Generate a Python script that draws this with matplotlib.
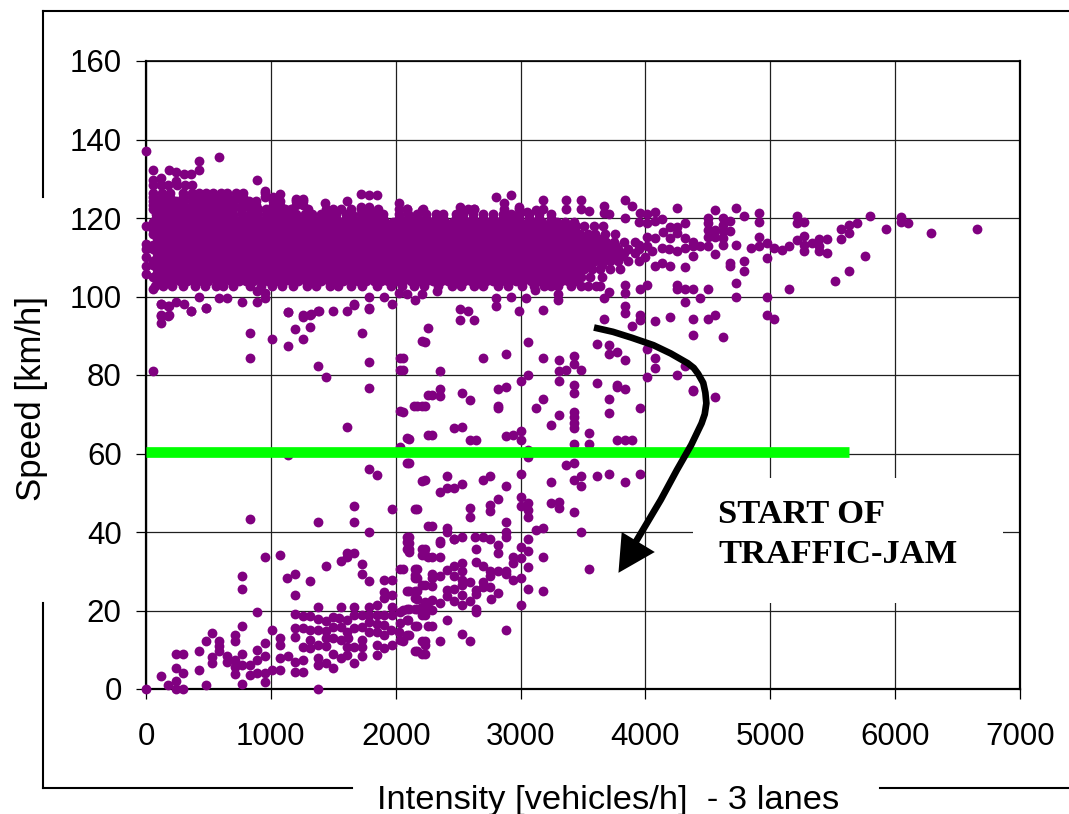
import matplotlib
matplotlib.use("Agg")
import matplotlib.pyplot as plt
from matplotlib.lines import Line2D
from matplotlib.patches import Rectangle

W, H = 1069, 814

x_ticks = [0, 1000, 2000, 3000, 4000, 5000, 6000, 7000]
y_ticks = [0, 20, 40, 60, 80, 100, 120, 140, 160]

PURPLE = "#800080"
GREEN = "#00ff00"

# free-flow band, read row by row (intensities on each speed row)
row_a = [70, 140, 205, 300, 390, 470, 560, 620, 700, 830, 920, 1010, 1090, 1180, 1290, 1360, 1470, 1540, 1640, 1730,
         1850, 1960, 2050, 2150, 2230, 2340, 2450, 2520, 2630, 2700, 2820, 2900, 3010, 3110, 3190, 3300, 3400, 3540, 3640]
row_b = [85, 150, 205, 270, 325, 385, 445, 500, 565, 620, 680, 745, 800, 860, 925, 980, 1040, 1105, 1160, 1220, 1285,
         1340, 1400, 1465, 1520, 1580, 1645, 1700, 1760, 1825, 1880, 1940, 2005, 2060, 2120, 2185, 2240, 2300, 2365,
         2420, 2480, 2545, 2600, 2660, 2725, 2780, 2840, 2905, 2960, 3020, 3085, 3140, 3200, 3265, 3320, 3380, 3445]
row_c = [60, 115, 175, 240, 295, 355, 420, 475, 535, 600, 655, 715, 780, 835, 895, 960, 1015, 1075, 1140, 1195, 1255,
         1320, 1375, 1435, 1500, 1555, 1615, 1680, 1735, 1795, 1860, 1915, 1975, 2040, 2095, 2155, 2220, 2275, 2335,
         2400, 2455, 2515, 2580, 2635, 2695, 2760, 2815, 2875, 2940, 2995, 3055, 3120, 3175, 3235, 3300, 3355, 3415,
         3480, 3560, 3650]
row_d = [85, 145, 210, 265, 325, 390, 445, 505, 570, 625, 685, 750, 805, 865, 930, 985, 1045, 1110, 1165, 1225, 1290,
         1345, 1405, 1470, 1525, 1585, 1650, 1705, 1765, 1830, 1885, 1945, 2010, 2065, 2125, 2190, 2245, 2305, 2370,
         2425, 2485, 2550, 2605, 2665, 2730, 2785, 2845, 2910, 2965, 3025, 3090, 3145, 3205, 3270, 3325, 3385, 3450,
         3505, 3570, 3640, 3720, 3800]
row_e = [60, 115, 180, 235, 295, 360, 415, 475, 540, 595, 655, 720, 775, 835, 900, 955, 1015, 1080, 1135, 1195, 1260,
         1315, 1375, 1440, 1495, 1555, 1620, 1675, 1735, 1800, 1855, 1915, 1980, 2035, 2095, 2160, 2215, 2275, 2340,
         2395, 2455, 2520, 2575, 2635, 2700, 2755, 2815, 2880, 2935, 2995, 3060, 3115, 3175, 3240, 3295, 3355, 3420,
         3475, 3535, 3600, 3655, 3715, 3780, 3860, 3950]
row_f = [85, 150, 205, 265, 330, 385, 445, 510, 565, 625, 690, 745, 805, 870, 925, 985, 1050, 1105, 1165, 1230, 1285,
         1345, 1410, 1465, 1525, 1590, 1645, 1705, 1770, 1825, 1885, 1950, 2005, 2065, 2130, 2185, 2245, 2310, 2365,
         2425, 2490, 2545, 2605, 2670, 2725, 2785, 2850, 2905, 2965, 3030, 3085, 3145, 3210, 3265, 3325, 3390, 3445,
         3505, 3570, 3625, 3685, 3750, 3830, 3920]
row_g = [60, 120, 175, 235, 300, 355, 415, 480, 535, 595, 660, 715, 775, 840, 895, 955, 1020, 1075, 1135, 1200, 1255,
         1315, 1380, 1435, 1495, 1560, 1615, 1675, 1740, 1795, 1855, 1920, 1975, 2035, 2100, 2155, 2215, 2280, 2335,
         2395, 2460, 2515, 2575, 2640, 2695, 2755, 2820, 2875, 2935, 3000, 3055, 3115, 3180, 3235, 3295, 3360, 3415,
         3475, 3540, 3600, 3680, 3760]
row_h = [90, 150, 205, 270, 325, 385, 450, 505, 565, 630, 685, 745, 810, 865, 925, 990, 1045, 1105, 1170, 1225, 1285,
         1350, 1405, 1465, 1530, 1585, 1645, 1710, 1765, 1825, 1890, 1945, 2005, 2070, 2125, 2185, 2250, 2305, 2365,
         2430, 2485, 2545, 2610, 2665, 2725, 2790, 2845, 2905, 2970, 3025, 3085, 3150, 3205, 3265, 3330, 3385, 3445,
         3510, 3590, 3660]
row_i = [60, 120, 180, 235, 295, 360, 415, 475, 540, 595, 655, 720, 775, 835, 900, 955, 1015, 1080, 1135, 1195, 1260,
         1315, 1375, 1440, 1495, 1555, 1620, 1675, 1735, 1800, 1855, 1915, 1980, 2035, 2095, 2160, 2215, 2275, 2340,
         2395, 2455, 2520, 2575, 2635, 2700, 2755, 2815, 2880, 2935, 2995, 3060, 3115, 3175, 3240, 3295, 3355, 3430]
row_j = [80, 145, 205, 265, 330, 390, 450, 510, 575, 635, 695, 770, 830, 890, 960, 1010, 1070, 1140, 1200, 1270, 1330,
         1400, 1460, 1520, 1600, 1650, 1720, 1780, 1840, 1900, 2030, 2100, 2170, 2240, 2320, 2380, 2480, 2540, 2620,
         2700, 2780, 2860, 2920, 2990, 3070, 3150, 3240]
row_k = [60, 125, 190, 250, 310, 375, 440, 505, 560, 625, 690, 760, 830, 900, 965, 1030, 1110, 1160, 1300, 1440, 1500,
         1560, 1640, 1725, 1790, 1860, 2030, 2090, 2215, 2520, 2630, 2870, 2985]
row_l = [60, 120, 175, 240, 300, 365, 430, 480, 540, 600, 650, 700, 770, 825, 880, 1015, 1075, 1200, 1260]
row_m = [60, 125, 190, 300, 370, 425, 480, 540, 600, 650, 720, 780, 950]
row_n = [60, 120, 180, 245, 310, 370]

band_speeds = [102.6, 104, 105, 106, 107, 108, 109, 110, 111, 112, 113, 114, 115, 116, 117, 118, 119, 120, 121, 122.4,
               123.4, 124.4, 125.4, 126.3, 128.4]
band_rows = [row_a, row_b, row_c, row_b, row_d, row_c, row_e, row_d, row_f, row_e, row_g, row_f, row_h, row_g, row_i,
             row_h, row_i, row_j, row_j, row_k, row_l, row_l, row_m, row_m, row_n]

# single points on and above the band edge
above_band = [(0, 137), (58, 132.2), (181, 132.2), (242, 131.6), (302, 131.3), (363, 131.3), (423, 134.5),
              (423, 132.2), (588, 135.6), (58, 129.6), (118, 130.2), (242, 129.5), (893, 129.6), (953, 126.9),
              (1074, 126.2), (1014, 125.4), (1198, 124.8), (1258, 124.8), (1437, 123.9), (1607, 124.3),
              (1725, 126.2), (1788, 125.8), (1849, 125.8), (1725, 122.8), (1788, 122.8), (2027, 123.8),
              (2088, 122.4), (2214, 122), (2514, 122.8), (2575, 122.4), (2626, 122.4), (2805, 125.3), (2865, 123.9),
              (2926, 125.8), (2984, 122.8), (3050, 121.5), (3125, 122), (3181, 124.5), (3181, 122.2), (3362, 124.5),
              (3362, 122.3), (3482, 124.5), (3482, 122.4), (3550, 121.8), (3666, 123), (3666, 121.2), (3833, 124.5),
              (3890, 123), (3707, 120.9), (3833, 120), (3953, 121.3), (4016, 120.9), (4074, 121.6), (4134, 119.7),
              (3950, 119), (4010, 118.6), (4074, 119.2), (4195, 117.7), (4255, 117.7), (4315, 118.7), (4255, 116.2),
              (4315, 114.9), (4378, 114), (4140, 116.5), (4074, 114.8), (4016, 115.2), (4195, 114.8), (4255, 122.5),
              (4559, 122), (4726, 122.5), (4910, 121.2), (4789, 120.6), (5211, 120.6), (5800, 120.6), (6044, 120.2),
              (6044, 119), (6104, 118.6), (6288, 116.2), (6652, 117.2), (5923, 117.2), (5696, 118.6), (5633, 118.3),
              (5570, 117.2), (5633, 116.2), (5570, 114.7), (5452, 114.7), (5392, 114.7), (5392, 112.8), (5392, 111.7),
              (5452, 111.2), (5332, 113.6), (5271, 115.3), (5271, 113.2), (5271, 111.5), (5211, 114.3), (5211, 118.6),
              (5271, 119.1), (5151, 112.8), (5091, 111.8), (5030, 112.4), (4970, 113.6), (4910, 115.2), (4910, 112.8),
              (4910, 119), (4847, 112.3), (4970, 109.8), (4726, 113.2), (4559, 110.8), (4619, 113.2), (4499, 112.8),
              (4438, 112.8), (4378, 112.8), (4315, 112.4), (4255, 111.7), (4378, 110.2), (4315, 107.4), (4195, 107.8),
              (4134, 108.5), (4074, 107.8), (4680, 108.5), (4680, 107.7), (4786, 109), (4786, 106.4), (5756, 110.3),
              (5633, 106.4), (5515, 103.9), (4499, 120), (4499, 118.7), (4499, 117), (4499, 115.2), (4559, 117),
              (4559, 115.2), (4619, 120), (4619, 118.3), (4619, 116.6), (4619, 114.9), (4680, 119.2), (4680, 116.6),
              (4130, 112.4), (4190, 112), (4050, 111.6), (4000, 110), (3950, 113), (4010, 112.8)]

# points just under the band
under_band = [(0, 118), (0, 113.5), (0, 112), (0, 110), (0, 107.8), (0, 105.8), (58, 101.9), (118, 98), (118, 95.2),
              (181, 95.2), (181, 97.7), (242, 98.6), (302, 98), (363, 96.4), (423, 99.9), (484, 97), (588, 99.5),
              (648, 99.5), (772, 98.5), (893, 98.5), (953, 99.5), (893, 101.4), (953, 100.8), (1137, 96), (1258, 95.2),
              (1321, 95.6), (1382, 96.4), (1500, 96.4), (1607, 96.4), (1665, 98), (1788, 96.9), (1788, 99.9),
              (1907, 99.9), (1967, 98), (2027, 100.8), (2088, 100.6), (2154, 99), (2214, 100.6), (2332, 101.4),
              (2514, 96.9), (2577, 96.4), (2514, 94), (2626, 94), (2805, 99.5), (2805, 97.6), (2926, 99.9),
              (3044, 99.5), (2984, 96.4), (117, 93.2), (117, 95), (178, 95), (178, 97.7), (117, 98), (359, 96.4),
              (484, 97), (830, 90.7), (830, 84.3), (56, 81), (1013, 89.2), (1136, 87.3), (1194, 91.6), (1255, 89.1),
              (1255, 94.7), (1316, 95.4), (1316, 92.2), (1136, 96), (1378, 96.4), (1668, 97.9), (1787, 97),
              (1726, 90.7), (1787, 83.4), (1378, 82.4), (1439, 79.5), (1787, 76.6), (1606, 66.8), (2032, 84.3),
              (2032, 81.4), (2213, 88.6), (2261, 92), (5151, 102), (4726, 103.4), (4726, 100), (4970, 100),
              (4970, 95.2), (5030, 94.3), (4559, 95.2), (4499, 94.3), (4378, 94.3), (4315, 98.6), (4438, 99.6),
              (4499, 102), (4378, 102), (4315, 102), (4255, 103), (4255, 102), (4016, 103), (3953, 102), (3833, 100.9),
              (3712, 101.1), (3666, 99.6), (3605, 102.6), (3833, 103), (3482, 102.6), (3301, 100.6), (3301, 99.2),
              (3241, 102.6), (3118, 101.6), (3181, 96.6), (3833, 97.5), (3833, 95.8), (3953, 95.2), (3953, 94.1),
              (4074, 93.7), (4195, 94.7), (3666, 94.3), (3890, 92.4), (4378, 90.3), (4619, 89.8)]

# points scattered between the band and the jam branch
transition = [(2261, 75), (2032, 70.8), (2149, 72), (2213, 72), (2090, 63.9), (2261, 64.8), (2032, 61.7), (2090, 57.6),
              (1787, 56), (1848, 54.6), (2213, 53.1), (1136, 59.6), (2231, 88.4), (2059, 84.4), (2059, 81.4),
              (2351, 80.9), (2698, 84.3), (2881, 85.3), (3061, 88.4), (3183, 84.3), (3305, 83.9), (3424, 84.8),
              (3424, 82.9), (3366, 81.4), (3305, 80.9), (3485, 81.4), (3610, 88), (3710, 87.6), (3710, 85.3),
              (3774, 85.8), (3835, 83.8), (4012, 86.7), (4073, 84.3), (4073, 81.9), (4012, 79.5), (4256, 80),
              (4378, 76.3), (4378, 75.9), (3061, 80), (3000, 78.5), (3305, 78.5), (3424, 77.5), (3424, 75.5),
              (3610, 78), (3774, 77.5), (3774, 77), (3835, 76.5), (3710, 74), (3183, 74), (3122, 71.6), (3954, 71.6),
              (3710, 70.2), (3305, 69.7), (3424, 70.7), (3424, 69.2), (3424, 67.8), (3424, 66.4), (3244, 67.2),
              (3546, 65.3), (3546, 62.4), (3424, 62.4), (3774, 63.4), (3835, 63.4), (3893, 63.4), (3061, 60.9),
              (3061, 59), (2820, 76.5), (2881, 77), (2351, 76.5), (2290, 75), (2351, 74.6), (2531, 75.5), (2595, 73.6),
              (2168, 72.1), (2231, 72.1), (2059, 70.7), (2820, 72.1), (2820, 71.5), (2470, 66.4), (2531, 66.8),
              (2290, 64.8), (2110, 63.8), (2595, 63.4), (2642, 63.4), (2881, 64.4), (2942, 64.8), (3000, 65.8),
              (3000, 63.4), (2110, 57.6), (3366, 57), (3424, 57.6), (3485, 54.3), (3424, 53.2), (3485, 51.8),
              (3610, 54.3), (3710, 54.7), (3835, 52.7), (3954, 54.7), (3244, 52.7), (3000, 54.7), (2881, 51.8),
              (2756, 54.3), (2698, 53.2), (2412, 54.3), (2231, 53.2), (2531, 52.2), (2470, 51.3), (2412, 51.3),
              (2351, 50.3), (3000, 48.8), (3000, 46.5), (3061, 47.3), (3061, 45.6), (3061, 43.9), (3244, 47.3),
              (3305, 47.7), (3305, 46), (3424, 45.2), (2820, 48.3), (2756, 47), (2756, 45.4), (2595, 46), (2595, 43.9),
              (2168, 45.9), (2290, 41.5), (2412, 41.1), (2412, 39.9), (2881, 42.6), (2881, 40.1), (2881, 38.8),
              (3122, 40.5), (3183, 41), (3485, 40.1), (4559, 74.3), (4315, 82.2)]

# congested branch, lower left
congested = [(2110, 38.8), (2110, 37.1), (2470, 38.3), (2531, 38.8), (2634, 38.8), (2698, 38.6), (2756, 38.3),
             (3061, 38.3), (2351, 37.6), (2351, 37.1), (2110, 35.6), (2110, 34.9), (2231, 35.7), (2231, 34.1),
             (2290, 33.7), (2351, 33.7), (2470, 38.1), (2640, 35.7), (2820, 36.7), (2820, 34.7), (3000, 36.3),
             (3061, 35.1), (2942, 33.7), (3000, 33.3), (2942, 32.2), (3183, 33.7), (3061, 31.2), (3546, 30.7),
             (2640, 32.3), (2698, 31.3), (2756, 30.1), (2820, 30.1), (2881, 30.1), (2881, 29.3), (2756, 28.8),
             (2942, 27.8), (3000, 28.3), (2698, 27.3), (2698, 25.9), (2756, 25.9), (2640, 25.2), (2640, 24.3),
             (2820, 24.4), (3061, 25.4), (3183, 24.9), (2761, 23), (3000, 21.4), (2640, 20.5), (2640, 19.7),
             (2595, 22.3), (2531, 23.9), (2531, 21.4), (2470, 22.5), (2470, 25.4), (2412, 25.2), (2412, 23.7),
             (2351, 21.9), (2290, 22.6), (2231, 22.2), (2168, 23), (2168, 25), (2110, 25), (2231, 26.5), (2290, 26.2),
             (2290, 29.4), (2290, 28.2), (2351, 28.8), (2412, 30.3), (2470, 31.4), (2470, 28.8), (2531, 32),
             (2531, 30.1), (2531, 27.7), (2595, 27.3), (2531, 26.5), (2168, 30.5), (2168, 28.2), (2056, 30.7),
             (2231, 20.5), (2168, 20.5), (2110, 20.5), (2290, 20.1), (2231, 18.8), (2059, 20.1), (2099, 17.5),
             (2168, 16), (2290, 16), (2412, 17.5), (2881, 15.1), (2531, 14.1), (2595, 12.2), (2351, 12.2),
             (2231, 12.2), (2231, 11.2), (2110, 13.7), (2059, 12.2), (2168, 9.7), (2231, 8.8),
             (830, 43.4), (1378, 42.5), (1668, 46.5), (1668, 42.5), (1971, 45.9), (2152, 45.9), (1788, 40), (2261, 41.5),
             (2091, 38.8), (2091, 37.5), (2091, 35.6), (2213, 35.6), (2213, 34.1), (2261, 33.7), (1075, 34.1),
             (952, 33.7), (771, 28.8), (771, 25.4), (1133, 28.3), (1197, 29.3), (1317, 27.4), (1439, 31.3), (1561, 32.7),
             (1607, 34.6), (1668, 34.7), (1607, 33.7), (1726, 31.8), (1726, 29.3), (1788, 27.4), (2032, 30.7),
             (2152, 30.7), (2152, 29), (2152, 28.2), (1907, 27.8), (1971, 27.8), (1907, 24.8), (1907, 23.1), (1971, 24),
             (2091, 25), (2152, 25), (2213, 26.5), (2152, 23.1), (1197, 24), (1378, 21), (1561, 21), (1668, 21),
             (1788, 21), (1849, 21.4), (891, 19.5), (1197, 19), (1256, 18.6), (1317, 18.6), (771, 16.1), (529, 14.2),
             (484, 12.2), (423, 9.8), (239, 8.8), (298, 8.8), (239, 5.4), (117, 3.4), (298, 4), (178, 1), (239, 2),
             (239, 0), (298, 0), (0, 0), (423, 4.9), (484, 1), (529, 8.2), (529, 6.7), (588, 12.2), (588, 11), (588, 9.8),
             (649, 8.5), (649, 6.8), (710, 13.8), (710, 12.2), (710, 7.4), (710, 5.7), (710, 3.8), (771, 8.8), (771, 6.1),
             (771, 1.4), (830, 6), (830, 3.6), (891, 9.9), (891, 7.4), (891, 4), (952, 11.6), (952, 8.4), (952, 4),
             (952, 1.9), (1013, 15), (1013, 4.9), (1075, 12.9), (1075, 11.2), (1075, 7.8), (1075, 4.9), (1136, 8.5),
             (1197, 15.6), (1197, 13.3), (1197, 6.8), (1197, 4.4), (1256, 15.6), (1256, 10.8), (1256, 7.4), (1256, 4.4),
             (1317, 15), (1317, 12.5), (1317, 10.4), (1378, 15), (1378, 11.2), (1378, 7.8), (1378, 6), (1378, 0),
             (1439, 17.2), (1439, 12.9), (1439, 11), (1439, 6.6), (1500, 18.4), (1500, 15.9), (1500, 12.9), (1500, 9),
             (1500, 5.4), (1561, 15.9), (1561, 12.5), (1561, 7.8), (1607, 17.6), (1607, 14.6), (1607, 10.8), (1607, 8.7),
             (1668, 18.9), (1668, 15.5), (1668, 10.8), (1668, 6.5), (1726, 18.9), (1726, 15.9), (1726, 12.5), (1726, 8.5),
             (1788, 18.9), (1788, 14.6), (1849, 18.9), (1849, 14.6), (1849, 11.2), (1849, 8.7), (1907, 18.9), (1907, 16.3),
             (1907, 13.8), (1907, 10.4), (1971, 21), (1971, 18.9), (1971, 11.2), (2032, 19.7), (2032, 16.7), (2032, 12.5),
             (2091, 20.5), (2091, 17.6), (2091, 13.8), (2152, 20.5), (2152, 16.1), (2152, 9.8), (2213, 21), (2213, 18.9),
             (2213, 12.2), (2213, 8.8), (2261, 21.8), (2261, 16.1), (1549, 18.2), (1380, 17.9), (1440, 14.9), (1620, 13),
             (1790, 17), (1960, 15), (2030, 14.5), (1730, 10.7), (1850, 16.5)]

# hand-drawn arrow path and head, figure annotation
arrow_x = [3588, 3740, 3890, 4064, 4202, 4339, 4387, 4422, 4463, 4480, 4488, 4475, 4450, 4367, 4252, 4123, 3923]
arrow_y = [92.1, 91, 89.5, 87.6, 85.5, 83, 81.8, 80.3, 78, 75.5, 72.8, 70, 67.7, 62.2, 55.8, 48.2, 37.5]
head_x = [3784, 3810, 4075]
head_y = [29.6, 40, 34.9]


def px(x, y):
    # pixel position in the picture to figure fraction
    return x / W, 1 - y / H


plt.rcParams["font.family"] = ["Liberation Sans", "DejaVu Sans"]
fig = plt.figure(figsize=(W / 100, H / 100), dpi=100)

left, bottom = px(146, 689)
right, top = px(1020, 61)
ax = fig.add_axes([left, bottom, right - left, top - bottom])
ax.set_xlim(0, 7000)
ax.set_ylim(0, 160)
ax.set_xticks(x_ticks)
ax.set_yticks(y_ticks)
ax.set_axisbelow(True)
ax.grid(True, color="#202020", linewidth=0.9)
ax.tick_params(axis="y", length=7, width=0.9, pad=10.5, labelsize=22.5, colors="#000000")
ax.tick_params(axis="x", length=7, width=0.9, pad=17, labelsize=22.5, colors="#000000")
for side in ax.spines:
    ax.spines[side].set_linewidth(1.6)
ax.spines["top"].set_linewidth(1.2)

# white patch behind the annotation hides the grid there
ax.add_patch(Rectangle(px(693, 603), 310 / W, 125 / H, transform=fig.transFigure,
                       facecolor="white", edgecolor="none", zorder=2, clip_on=False))

xs, ys = [], []
for speed, row in zip(band_speeds, band_rows):
    xs.extend(row)
    ys.extend([speed] * len(row))
for group in (above_band, under_band, transition, congested):
    xs.extend(p[0] for p in group)
    ys.extend(p[1] for p in group)
ax.scatter(xs, ys, s=50, color=PURPLE, linewidths=0, zorder=3, clip_on=False)

ax.plot([0, 5630], [60.3, 60.3], color=GREEN, linewidth=7.7, solid_capstyle="butt", zorder=4)
ax.plot(arrow_x, arrow_y, color="black", linewidth=4.8, solid_capstyle="butt", solid_joinstyle="round", zorder=5)
ax.fill(head_x, head_y, color="black", linewidth=0, zorder=5)

# outer frame of the original picture, broken where white boxes covered it
frame = [((43, 11), (1069, 11)), ((43, 11), (43, 197)), ((43, 603), (43, 788)),
         ((43, 788), (352, 788)), ((880, 788), (1069, 788))]
for a, b in frame:
    xa, ya = px(*a)
    xb, yb = px(*b)
    fig.add_artist(Line2D([xa, xb], [ya, yb], color="black", linewidth=1.5))

tx, ty = px(32, 399)
fig.text(tx, ty, "Speed [km/h]", rotation=90, ha="center", va="center", fontsize=25)
tx, ty = px(608, 800)
fig.text(tx, ty, "Intensity [vehicles/h]  - 3 lanes", ha="center", va="center", fontsize=24.8)
for label, baseline in [("START OF", 523), ("TRAFFIC-JAM", 563)]:
    tx, ty = px(718, baseline)
    fig.text(tx, ty, label, ha="left", va="baseline", fontsize=24.8, fontweight="bold",
             family=["Liberation Serif", "DejaVu Serif"])

fig.savefig("out.png", dpi=100)
